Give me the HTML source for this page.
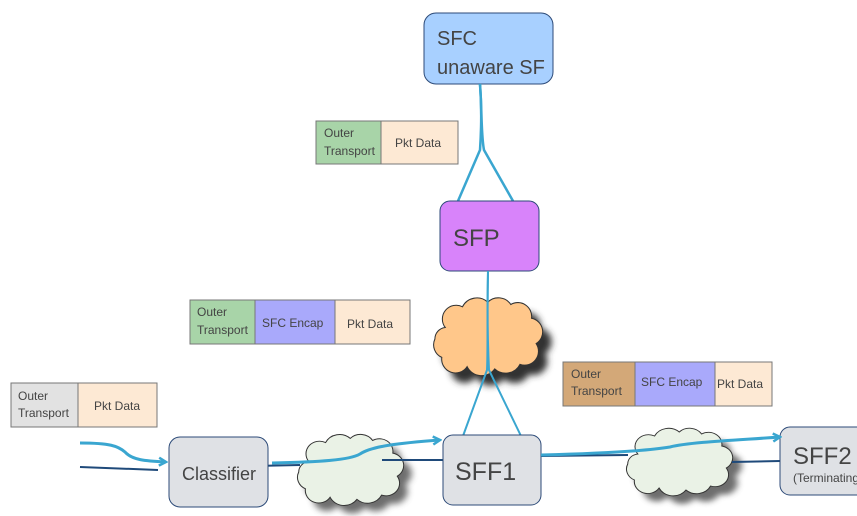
<!DOCTYPE html>
<html><head><meta charset="utf-8"><style>
html,body{margin:0;padding:0;background:#fff;overflow:hidden;}
svg{display:block;font-family:"Liberation Sans",sans-serif;}
</style></head><body>
<svg width="857" height="516" viewBox="0 0 857 516" xmlns="http://www.w3.org/2000/svg">
<defs>
<path id="cl" d="M15,30 A12,12 0 0 1 30,12 A14,14 0 0 1 52,8 A13,13 0 0 1 72,10 A12,12 0 0 1 90,22 A12,12 0 0 1 94,44 A12,12 0 0 1 80,62 A14,14 0 0 1 58,66 A14,14 0 0 1 34,64 A12,12 0 0 1 12,56 A12,12 0 0 1 6,40 A10,10 0 0 1 15,30 Z"/>
<filter id="bl"><feGaussianBlur stdDeviation="3"/></filter>
<marker id="ar" markerWidth="10" markerHeight="10" refX="8" refY="5" orient="auto" markerUnits="userSpaceOnUse"><path d="M1,1 L8,5 L1,9" fill="none" stroke="#3aa6d0" stroke-width="2.5"/></marker>
</defs>

<rect x="424" y="13" width="129" height="71" rx="12" fill="#a8d0ff" stroke="#2c4a78" stroke-width="1"/>
<text x="437" y="45" font-size="20" fill="#444">SFC</text>
<text x="437" y="74" font-size="20" fill="#444">unaware SF</text>
<path d="M480,84 C482,110 481,135 480,150 L458,201" fill="none" stroke="#3aa6d0" stroke-width="2.5"/>
<path d="M480,84 C482,110 481,135 484,150 L513,201" fill="none" stroke="#3aa6d0" stroke-width="2.5"/>

<rect x="316" y="121" width="65" height="43" fill="#a8d4a8" stroke="#777"/>
<rect x="381" y="121" width="77" height="43" fill="#fde9d4" stroke="#777"/>
<text x="324" y="137" font-size="12" fill="#444">Outer</text>
<text x="324" y="155" font-size="12" fill="#444">Transport</text>
<text x="395" y="147" font-size="12" fill="#444">Pkt Data</text>

<rect x="440" y="201" width="99" height="70" rx="10" fill="#d883fa" stroke="#2c4a78"/>
<text x="453" y="246" font-size="24" fill="#444">SFP</text>

<use href="#cl" transform="translate(437,303) scale(1.15,1.15)" fill="#333" filter="url(#bl)"/>
<use href="#cl" transform="translate(428,293) scale(1.15,1.15)" fill="#ffc78a" stroke="#333" stroke-width="0.9"/>

<path d="M488,271 C487,320 488,350 487,370 L463,436" fill="none" stroke="#3aa6d0" stroke-width="2"/>
<path d="M488,271 C487,320 488,350 489,370 L521,436" fill="none" stroke="#3aa6d0" stroke-width="2"/>

<rect x="190" y="300" width="65" height="44" fill="#a8d4a8" stroke="#777"/>
<rect x="255" y="300" width="80" height="44" fill="#a9a9fb" stroke="#777"/>
<rect x="335" y="300" width="75" height="44" fill="#fde9d4" stroke="#777"/>
<text x="197" y="316" font-size="12" fill="#444">Outer</text>
<text x="197" y="334" font-size="12" fill="#444">Transport</text>
<text x="262" y="327" font-size="12" fill="#444">SFC Encap</text>
<text x="347" y="328" font-size="12" fill="#444">Pkt Data</text>

<rect x="11" y="383" width="67" height="44" fill="#e2e2e2" stroke="#777"/>
<rect x="78" y="383" width="79" height="44" fill="#fde9d4" stroke="#777"/>
<text x="18" y="400" font-size="12" fill="#444">Outer</text>
<text x="18" y="417" font-size="12" fill="#444">Transport</text>
<text x="94" y="410" font-size="12" fill="#444">Pkt Data</text>

<rect x="563" y="362" width="72" height="44" fill="#d3a878" stroke="#777"/>
<rect x="635" y="362" width="80" height="44" fill="#a9a9fb" stroke="#777"/>
<rect x="715" y="362" width="57" height="44" fill="#fde9d4" stroke="#777"/>
<text x="571" y="378" font-size="12" fill="#444">Outer</text>
<text x="571" y="395" font-size="12" fill="#444">Transport</text>
<text x="641" y="386" font-size="12" fill="#444">SFC Encap</text>
<text x="717" y="388" font-size="12" fill="#444">Pkt Data</text>

<use href="#cl" transform="translate(300,438) scale(1.12,1.05)" fill="#555" filter="url(#bl)" opacity="0.85"/>
<use href="#cl" transform="translate(292,430) scale(1.12,1.05)" fill="#eaf2e6" stroke="#333" stroke-width="0.9"/>
<use href="#cl" transform="translate(630,432) scale(1.12,1.0)" fill="#555" filter="url(#bl)" opacity="0.85"/>
<use href="#cl" transform="translate(621,424) scale(1.12,1.0)" fill="#eaf2e6" stroke="#333" stroke-width="0.9"/>

<g stroke="#1f4a7a" stroke-width="2" fill="none">
<path d="M80,467 L158,470"/>
<path d="M251,466 L300,465"/>
<path d="M382,460 L443,460"/>
<path d="M541,456 L628,455"/>
<path d="M732,462 L780,461"/>
</g>

<rect x="169" y="437" width="99" height="70" rx="11" fill="#dfe1e5" stroke="#2c4a78"/>
<text x="182" y="480" font-size="18" fill="#444">Classifier</text>

<rect x="443" y="435" width="98" height="70" rx="10" fill="#dfe1e5" stroke="#2c4a78"/>
<text x="455" y="480" font-size="25" fill="#444">SFF1</text>

<rect x="780" y="427" width="90" height="68" rx="10" fill="#dfe1e5" stroke="#2c4a78"/>
<text x="793" y="464" font-size="24" fill="#444">SFF2</text>
<text x="793" y="482" font-size="12" fill="#444">(Terminating</text>

<g stroke="#3aa6d0" stroke-width="3" fill="none">
<path d="M80,443 C110,443 118,446 125,452 C132,460 145,461 166,462" marker-end="url(#ar)"/>
<path d="M272,463 C320,462 350,460 360,454 C372,446 400,443 440,440" marker-end="url(#ar)"/>
<path d="M541,455 C580,454 640,452 670,447 C690,442 740,440 780,437" marker-end="url(#ar)"/>
</g>
</svg>
</body></html>
